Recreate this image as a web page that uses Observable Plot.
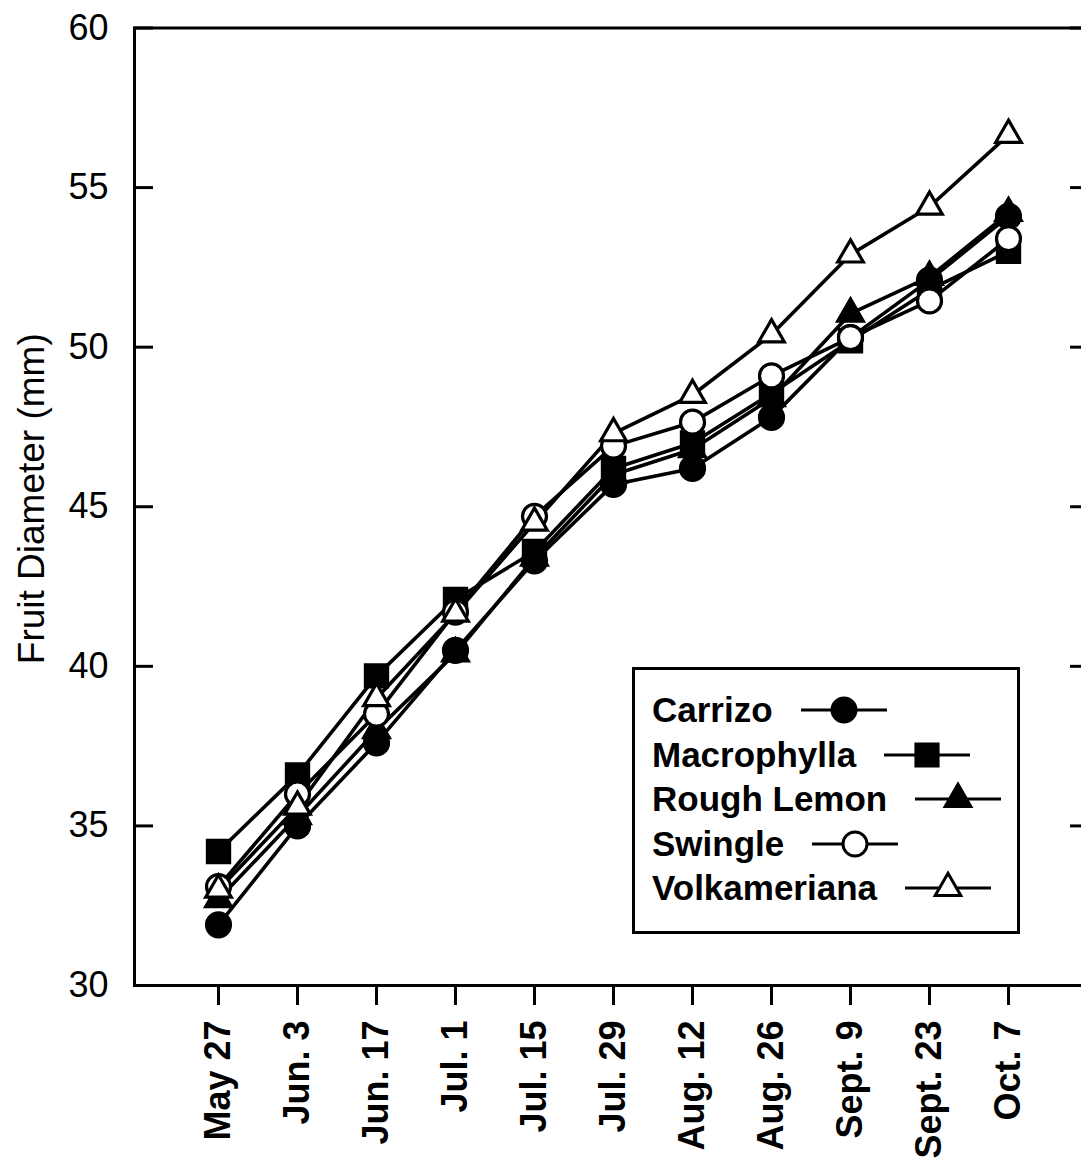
<!DOCTYPE html>
<html>
<head>
<meta charset="utf-8">
<script src="https://cdn.jsdelivr.net/npm/d3@7"></script>
<script src="https://cdn.jsdelivr.net/npm/@observablehq/plot@0.6"></script>
<style>
  html, body { margin: 0; padding: 0; background: #fff; overflow: hidden; }
  #wrap { position: relative; width: 1081px; height: 1159px; overflow: hidden; }
  #legend {
    position: absolute; left: 632px; top: 667px; width: 388px; height: 267px;
    box-sizing: border-box; border: 3px solid #000; background: #fff;
    padding-top: 18px; padding-left: 17px;
    font-family: "Liberation Sans", Arial, Helvetica, sans-serif; font-weight: bold; font-size: 35px;
  }
  #legend .row { display: flex; align-items: center; height: 44.5px; line-height: 44.5px; white-space: nowrap; }
  #legend .row svg { margin-left: 28px; overflow: visible; }
</style>
</head>
<body>
<div id="wrap"><div id="chart"></div><div id="legend"></div></div>
<script>
// ---- data ----
const dates = ["May 27", "Jun. 3", "Jun. 17", "Jul. 1", "Jul. 15", "Jul. 29", "Aug. 12", "Aug. 26", "Sept. 9", "Sept. 23", "Oct. 7"];
const seriesNames = ["Carrizo", "Macrophylla", "Rough Lemon", "Swingle", "Volkameriana"];
const carrizo      = [31.9, 35.0, 37.6, 40.5, 43.3, 45.7, 46.2, 47.8, 50.3, 52.1, 54.1];
const macrophylla  = [34.2, 36.6, 39.7, 42.1, 43.6, 46.2, 47.0, 48.55, 50.2, 51.8, 53.0];
const roughLemon   = [32.7, 35.3, 38.0, 40.4, 43.4, 46.0, 46.8, 48.4, 51.05, 52.2, 54.2];
const swingle      = [33.1, 36.0, 38.5, 41.7, 44.7, 46.9, 47.65, 49.1, 50.3, 51.45, 53.4];
const volkameriana = [33.0, 35.6, 39.0, 41.65, 44.5, 47.3, 48.5, 50.4, 52.9, 54.4, 56.65];
const yTicks = [30, 35, 40, 45, 50, 55, 60];
const yLabel = "Fruit Diameter (mm)";

const seriesValues = [carrizo, macrophylla, roughLemon, swingle, volkameriana];
const rows = seriesNames.flatMap((name, i) =>
  dates.map((date, j) => ({series: name, date, value: seriesValues[i][j]})));

// ---- styles ----
const styles = {
  "Carrizo":      {symbol: "circle",   fill: "black", r: 12},
  "Macrophylla":  {symbol: "square",   fill: "black", r: 12.5},
  "Rough Lemon":  {symbol: "triangle", fill: "black", r: 9.5},
  "Swingle":      {symbol: "circle",   fill: "white", r: 12},
  "Volkameriana": {symbol: "triangle", fill: "white", r: 9.5}
};
const font = "'Liberation Sans', Arial, Helvetica, sans-serif";

const chart = Plot.plot({
  width: 1081,
  height: 1159,
  marginTop: 27.5,
  marginBottom: 174,
  marginLeft: 134,
  marginRight: -10,
  style: {fontFamily: font, background: "white", color: "black", overflow: "visible"},
  x: {type: "point", domain: dates, padding: 1, label: null},
  y: {domain: [30, 60], label: null},
  marks: [
    Plot.axisY(yTicks, {anchor: "left", tickSize: -19, tickPadding: 45, fontSize: 36, strokeWidth: 3, label: null}),
    Plot.text([yLabel], {text: d => d, frameAnchor: "left", rotate: -90, lineAnchor: "top",
      textAnchor: "middle", dx: -117, dy: -8, fontSize: 37}),
    Plot.axisY(yTicks, {anchor: "right", tickSize: -22, tickFormat: () => "", strokeWidth: 3, label: null}),
    Plot.axisX(dates, {anchor: "bottom", tickSize: 20, tickRotate: -90, tickPadding: 15, fontSize: 36,
      fontWeight: "bold", strokeWidth: 3, label: null}),
    Plot.frame({stroke: "black", strokeWidth: 3}),
    Plot.line(rows, {x: "date", y: "value", z: "series", stroke: "black", strokeWidth: 3.6, strokeLinejoin: "round"}),
    ...seriesNames.map(name => Plot.dot(rows.filter(d => d.series === name), {
      x: "date", y: "value",
      symbol: styles[name].symbol, fill: styles[name].fill, r: styles[name].r,
      stroke: "black", strokeWidth: 3.2
    }))
  ]
});
document.getElementById("chart").appendChild(chart);

// ---- legend ----
const legend = d3.select("#legend");
const symbolMap = {circle: d3.symbolCircle, square: d3.symbolSquare, triangle: d3.symbolTriangle};
seriesNames.forEach(name => {
  const st = styles[name];
  const row = legend.append("div").attr("class", "row");
  row.append("span").text(name);
  const svg = row.append("svg").attr("width", 86).attr("height", 30);
  svg.append("line").attr("x1", 0).attr("x2", 86).attr("y1", 15).attr("y2", 15)
    .attr("stroke", "black").attr("stroke-width", 3);
  svg.append("path")
    .attr("d", d3.symbol(symbolMap[st.symbol], st.r * st.r * Math.PI)())
    .attr("transform", "translate(43,15)")
    .attr("fill", st.fill).attr("stroke", "black").attr("stroke-width", 3);
});
</script>
</body>
</html>
